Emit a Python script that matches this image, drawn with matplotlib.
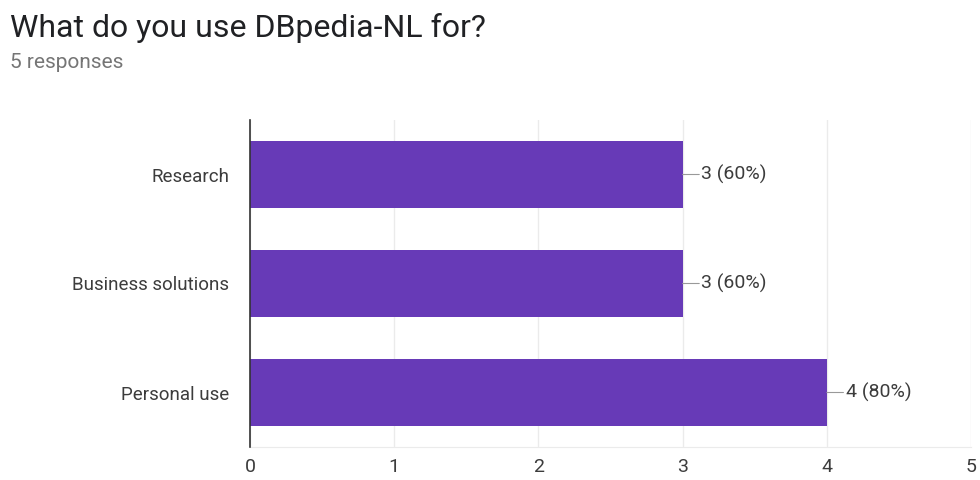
import matplotlib
matplotlib.use("Agg")
import matplotlib.pyplot as plt

plt.rcParams['font.family'] = ['Roboto', 'DejaVu Sans']

categories = ["Research", "Business solutions", "Personal use"]
counts = [3, 3, 4]
total = 5
xticks = [0, 1, 2, 3, 4, 5]

bar_color = "#673ab7"
text_color = "#3c3c3c"

fig = plt.figure(figsize=(9.8, 4.8), dpi=100)
ax = fig.add_axes([0.2551, 0.06875, 0.7357, 0.68125])

ypos = list(range(len(categories)))
ax.barh(ypos, counts, height=0.615, color=bar_color, zorder=3)

ax.set_xlim(0, 5)
ax.set_ylim(len(categories) - 0.5, -0.5)
ax.set_yticks(ypos)
ax.set_yticklabels(categories, fontsize=13.5, color=text_color)
ax.set_xticks(xticks)
ax.set_xticklabels([str(t) for t in xticks], fontsize=14, color=text_color)
ax.tick_params(axis="y", length=0, pad=15)
ax.tick_params(axis="x", length=0, pad=8)

ax.grid(axis="x", color="#ebebeb", linewidth=1, zorder=0)
for s in ["top", "right"]:
    ax.spines[s].set_visible(False)
ax.spines["left"].set_color("#333333")
ax.spines["left"].set_linewidth(1.2)
ax.spines["left"].set_zorder(4)
ax.spines["bottom"].set_color("#ebebeb")

for y, c in zip(ypos, counts):
    pct = round(100 * c / total)
    ax.annotate("", xy=(c, y), xytext=(12, 0), textcoords="offset points",
                arrowprops=dict(arrowstyle="-", color="#999999", lw=0.8,
                                shrinkA=0, shrinkB=0))
    ax.annotate(f"{c} ({pct}%)", xy=(c, y), xytext=(13.5, 0), textcoords="offset points",
                va="center", ha="left", fontsize=14, color=text_color)

fig.text(10 / 980, 1 - 28 / 480, "What do you use DBpedia-NL for?", fontsize=23,
         color="#202124", va="center", ha="left")
fig.text(10 / 980, 1 - 63 / 480, "5 responses", fontsize=15, color="#757575",
         va="center", ha="left")

fig.savefig("out.png", dpi=100, facecolor="white")
